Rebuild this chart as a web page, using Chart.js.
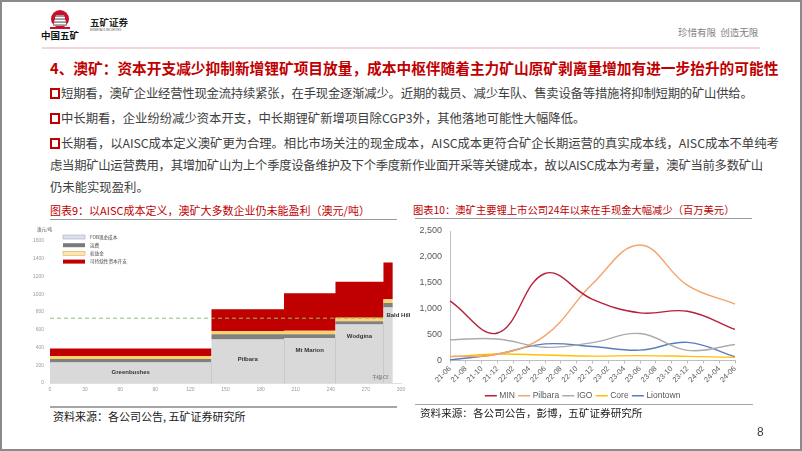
<!DOCTYPE html>
<html><head><meta charset="utf-8">
<script src="https://cdn.jsdelivr.net/npm/chart.js@4"></script>
<style>
html,body{margin:0;padding:0;}
body{width:802px;height:451px;position:relative;overflow:hidden;background:#fff;font-family:"Noto Sans CJK SC","Noto Sans",sans-serif;}
.frame{position:absolute;left:0;top:0;width:798px;height:447px;border:2px solid #8a8a8a;pointer-events:none;}
.t{position:absolute;white-space:nowrap;}
.title{left:50px;top:58px;font-size:14.7px;line-height:20px;font-weight:bold;color:#c00000;}
.b{font-size:12.35px;line-height:18px;color:#404040;}
.sq{position:absolute;width:6px;height:7px;border:2px solid #c00000;}
.hr{position:absolute;height:0;}
.ct{font-size:11px;line-height:14px;color:#c00000;}
.src{font-size:11px;line-height:14px;color:#202020;}
canvas{position:absolute;}
</style></head>
<body>
<div class="frame"></div>
<!-- header -->
<svg style="position:absolute;left:40px;top:6px" width="44" height="26" viewBox="0 0 44 26">
  <circle cx="20" cy="13" r="9" fill="#c8102e"/>
  <path d="M13 20 L27 20 L24 9 L16 9 Z" fill="#9a9a9a"/>
  <rect x="15" y="11" width="10" height="1.2" fill="#fff"/>
  <rect x="14.5" y="14" width="11" height="1.2" fill="#fff"/>
  <rect x="14" y="17" width="12" height="1.2" fill="#fff"/>
  <rect x="10" y="21" width="20" height="2" fill="#c8102e"/>
</svg>
<div class="t" style="left:41px;top:29px;font-size:9.5px;line-height:13px;font-weight:bold;color:#111;">中国五矿</div>
<div class="t" style="left:90px;top:16px;font-size:9.5px;line-height:13px;font-weight:bold;color:#222;">五矿证券</div>
<svg style="position:absolute;left:90px;top:28px" width="40" height="4"><text x="0" y="3" font-size="2.6" fill="#555" font-family="Liberation Sans">MINMETALS SECURITIES</text></svg>
<div class="t" style="left:678px;top:25px;font-size:9.5px;line-height:14px;color:#808080;">珍惜有限&nbsp;&nbsp;创造无限</div>
<div class="hr" style="left:42px;top:47px;width:718px;border-top:2px solid #f1d5da;"></div>

<div class="t title">4、澳矿：资本开支减少抑制新增锂矿项目放量，成本中枢伴随着主力矿山原矿剥离量增加有进一步抬升的可能性</div>

<div class="sq" style="left:50px;top:88px;"></div>
<div class="t b" style="left:61px;top:84px;letter-spacing:-0.21px;">短期看，澳矿企业经营性现金流持续紧张，在手现金逐渐减少。近期的裁员、减少车队、售卖设备等措施将抑制短期的矿山供给。</div>
<div class="sq" style="left:50px;top:113px;"></div>
<div class="t b" style="left:61px;top:109px;">中长期看，企业纷纷减少资本开支，中长期锂矿新增项目除CGP3外，其他落地可能性大幅降低。</div>
<div class="sq" style="left:50px;top:138px;"></div>
<div class="t b" style="left:61px;top:134px;letter-spacing:-0.05px;">长期看，以AISC成本定义澳矿更为合理。相比市场关注的现金成本，AISC成本更符合矿企长期运营的真实成本线，AISC成本不单纯考</div>
<div class="t b" style="left:50px;top:156px;letter-spacing:-0.28px;">虑当期矿山运营费用，其增加矿山为上个季度设备维护及下个季度新作业面开采等关键成本，故以AISC成本为考量，澳矿当前多数矿山</div>
<div class="t b" style="left:50px;top:178px;">仍未能实现盈利。</div>

<div class="t ct" style="left:50px;top:203px;">图表9：以AISC成本定义，澳矿大多数企业仍未能盈利（澳元/吨）</div>
<div class="hr" style="left:50px;top:219px;width:347px;border-top:1px solid #9a9a9a;"></div>
<div class="t ct" style="left:413px;top:203px;font-size:10.3px;">图表10：澳矿主要锂上市公司24年以来在手现金大幅减少（百万美元）</div>
<div class="hr" style="left:415px;top:218px;width:337px;border-top:1px solid #9a9a9a;"></div>

<canvas id="c1" width="390" height="175" style="left:20px;top:225px;width:390px;height:175px;"></canvas>
<canvas id="c2" width="389" height="188" style="left:413px;top:222px;width:389px;height:188px;"></canvas>

<div class="hr" style="left:50px;top:406px;width:347px;border-top:2px solid #a6a6a6;"></div>
<div class="t src" style="left:53px;top:409px;">资料来源：各公司公告, 五矿证券研究所</div>
<div class="hr" style="left:415px;top:404px;width:338px;border-top:1px solid #a6a6a6;"></div>
<div class="t src" style="left:420px;top:406px;font-size:10.6px;">资料来源：各公司公告，彭博，五矿证券研究所</div>
<div class="t" style="left:757px;top:424px;font-size:12px;line-height:16px;color:#404040;font-family:'Liberation Sans';">8</div>

<script>
// ---------- Chart 9 data: AISC cost curve (AUD/t) ----------
const mineNames = ['Greenbushes','Pilbara','Mt Marion','Wodgina','Bald Hill'];
const mineStart = [0,138,200,244,285];      // cumulative capacity, kt LCE
const mineEnd   = [138,200,244,285,293];
const fobCost   = [230,490,505,660,850];
const freight   = [40,60,45,35,52];
const royalty   = [35,35,38,40,42];
const sustCapex = [85,245,422,405,415];
const breakEven = 730;
const layerNames = ['FOB现金成本','运费','权益金','可持续性资本开支'];
const xTicks9 = [0,30,60,90,120,150,180,210,240,270,300];
const yTicks9 = [0,200,400,600,800,1000,1200,1400,1600];

// ---------- Chart 10 data: cash on hand (USD mn) ----------
const months = ['21-06','21-08','21-10','21-12','22-02','22-04','22-06','22-08','22-10','22-12','23-02','23-04','23-06','23-08','23-10','23-12','24-02','24-04','24-06'];
const MIN      = [1150,null,null,530,null,null,1680,null,null,1180,null,null,920,null,null,950,null,null,600];
const Pilbara  = [80,null,null,120,null,null,480,null,null,1480,null,null,2230,null,null,1450,null,null,1090];
const IGO      = [400,null,null,415,null,null,255,null,null,345,null,null,520,null,null,195,null,null,310];
const Core     = [70,null,null,125,null,null,105,null,null,85,null,null,95,null,null,80,null,null,60];
const Liontown = [10,null,null,125,null,null,320,null,null,270,null,null,200,null,null,350,null,null,75];

// build cumulative stepped outlines
const layers = [fobCost, freight, royalty, sustCapex];
const cum = [];
layers.forEach((arr, k) => {
  cum.push(arr.map((v, i) => v + (k ? cum[k-1][i] : 0)));
});
function stepPts(vals){
  const pts = [];
  vals.forEach((v,i)=>{ pts.push({x:mineStart[i], y:v}); pts.push({x:mineEnd[i], y:v}); });
  return pts;
}
const layerColors = ['#d9d9d9','#808080','#fdd36a','#c00000'];
const legendSwatch = [['#dde0ea','#9aa0b0'],['#7a7a7a',null],['#fde7a6','#c9a45a'],['#c00000',null]];

const ds9 = layers.map((arr,k)=>({
  type:'line', label: layerNames[k], data: stepPts(cum[k]),
  borderColor:'rgba(0,0,0,0)', borderWidth:0, pointRadius:0, tension:0,
  backgroundColor: layerColors[k], fill: k===0 ? 'origin' : k-1
}));
ds9.push({type:'line', label:'breakeven', data:[{x:0,y:breakEven},{x:mineEnd[3],y:breakEven}],
  borderColor:'#8fc06a', borderWidth:1, borderDash:[4,3], pointRadius:0, fill:false, order:-1});

const cost9Plugin = {
  id:'cost9',
  afterDatasetsDraw(chart){
    const {ctx, scales:{x,y}} = chart;
    ctx.save();
    ctx.strokeStyle = '#c4c4c4'; ctx.lineWidth = 0.8;
    for (let i=1;i<mineStart.length;i++){
      const px = Math.round(x.getPixelForValue(mineStart[i]))+0.5;
      ctx.beginPath(); ctx.moveTo(px, y.getPixelForValue(0));
      ctx.lineTo(px, y.getPixelForValue(Math.min(fobCost[i-1], fobCost[i]))); ctx.stroke();
    }
    const labFrac = [0.54,0.54,0.72,0.79,0.9];
    ctx.font = 'bold 6px "Liberation Sans", Arial';
    ctx.fillStyle = '#333'; ctx.textBaseline = 'middle';
    mineNames.forEach((n,i)=>{
      const yy = y.getPixelForValue(fobCost[i]*labFrac[i]);
      if (i === mineNames.length-1){
        ctx.textAlign='left';
        ctx.fillText(n, x.getPixelForValue(mineStart[i])+3, yy);
      } else {
        ctx.textAlign='center';
        ctx.fillText(n, x.getPixelForValue((mineStart[i]+mineEnd[i])/2), yy);
      }
    });
    ctx.font = '4.5px "Noto Sans CJK SC"'; ctx.fillStyle='#555'; ctx.textAlign='left';
    ctx.fillText('澳元/吨', 17, 4);
    ctx.fillText('千吨LCE', 352, 152);
    layerNames.forEach((n,k)=>{
      const yy = 12 + k*8.2;
      ctx.fillStyle = legendSwatch[k][0];
      ctx.fillRect(43, yy-2, 22, 4);
      if (legendSwatch[k][1]){ ctx.strokeStyle = legendSwatch[k][1]; ctx.lineWidth=0.5; ctx.strokeRect(43, yy-2, 22, 4); }
      ctx.fillStyle = '#444'; ctx.font = '4.6px "Noto Sans CJK SC"';
      ctx.fillText(n, 70, yy);
    });
    ctx.restore();
  }
};

new Chart(document.getElementById('c1'), {
  type:'line',
  data:{ datasets: ds9 },
  options:{
    responsive:false, animation:false, devicePixelRatio:1,
    layout:{padding:{top:16,right:9,left:0,bottom:0}},
    plugins:{legend:{display:false}, tooltip:{enabled:false}},
    scales:{
      x:{type:'linear', min:0, max:300,
         afterBuildTicks: s => { s.ticks = xTicks9.map(v=>({value:v})); },
         afterFit: s => { s.height = 17; },
         grid:{display:false, drawTicks:false, tickLength:0}, border:{display:true,color:'#e0e0e0'},
         ticks:{font:{size:5, family:'Liberation Sans'}, color:'#9a9a9a', padding:4, maxRotation:0,
                callback: v => String(v)}},
      y:{min:0, max:1600,
         afterBuildTicks: s => { s.ticks = yTicks9.map(v=>({value:v})); },
         afterFit: s => { s.width = 30; },
         grid:{display:false, drawTicks:false, tickLength:0}, border:{display:false},
         ticks:{font:{size:5, family:'Liberation Sans'}, color:'#9a9a9a', padding:6,
                callback: v => String(v)}}
    }
  },
  plugins:[cost9Plugin]
});

const mk = (label, data, color) => ({label, data, borderColor:color, backgroundColor:color,
  borderWidth:1.4, pointRadius:0, tension:0.4, spanGaps:true, fill:false});

const legendShift = { id:'legendShift', afterLayout(chart){ const lg = chart.legend; if (lg){ lg.left += 9.5; lg.right += 9.5; } } };

new Chart(document.getElementById('c2'), {
  type:'line',
  data:{ labels: months, datasets:[
    mk('MIN', MIN, '#b8203a'),
    mk('Pilbara', Pilbara, '#f2a46e'),
    mk('IGO', IGO, '#ababab'),
    mk('Core', Core, '#ffc000'),
    mk('Liontown', Liontown, '#5a7dbf')
  ]},
  options:{
    responsive:false, animation:false, devicePixelRatio:1,
    layout:{padding:{top:9,right:67,left:0,bottom:0}},
    plugins:{
      tooltip:{enabled:false},
      legend:{position:'bottom', labels:{usePointStyle:true, pointStyle:'line', boxWidth:10, padding:5,
        font:{size:8.5, family:'Liberation Sans'}, color:'#595959'}}
    },
    scales:{
      x:{offset:false, afterFit: s => { s.height = 26; },
         grid:{drawOnChartArea:false, drawTicks:true, tickLength:3, color:'#bfbfbf'},
         border:{color:'#bfbfbf'},
         ticks:{autoSkip:false, minRotation:45, maxRotation:45, font:{size:7.5, family:'Liberation Sans'}, color:'#595959', padding:1}},
      y:{min:0, max:2500, afterFit: s => { s.width = 37; s.paddingTop = 0; s.paddingBottom = 0; },
         grid:{display:false, drawTicks:false, tickLength:0}, border:{color:'#bfbfbf'},
         ticks:{stepSize:500, padding:8, font:{size:9, family:'Liberation Sans'}, color:'#595959',
           callback: v => v.toLocaleString('en-US')}}
    }
  },
  plugins:[legendShift]
});
</script>
</body></html>
